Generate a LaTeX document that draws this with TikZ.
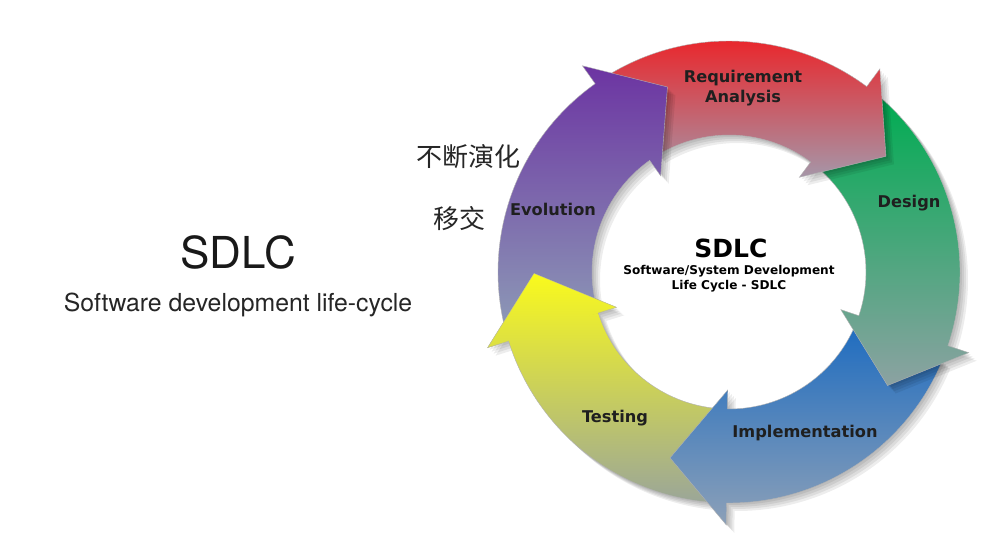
\documentclass[tikz,border=0pt]{standalone}
\usepackage{fontspec}
\newfontfamily\titlefont{TeX Gyre Heros}
\newfontfamily\labelfont{DejaVu Sans}
\newfontfamily\cjkfont{Noto Sans CJK SC}

\definecolor{evotop}{RGB}{108,52,162}
\definecolor{evobot}{RGB}{140,152,182}
\definecolor{reqtop}{RGB}{240,28,32}
\definecolor{reqbot}{RGB}{165,150,168}
\definecolor{destop}{RGB}{0,172,82}
\definecolor{desbot}{RGB}{140,162,162}
\definecolor{imptop}{RGB}{30,108,192}
\definecolor{impbot}{RGB}{140,160,184}
\definecolor{testop}{RGB}{250,250,28}
\definecolor{tesbot}{RGB}{155,166,152}

\tikzset{
  phase/.style={font=\labelfont\bfseries\fontsize{16.2}{20}\selectfont, text=black!88, align=center, inner sep=0pt},
  hub/.style={font=\labelfont\bfseries, text=black, align=center, inner sep=0pt},
  cjk/.style={font=\cjkfont\fontsize{26}{29}\selectfont, text=black!85, inner sep=0pt},
  shade/.style={fill=black, opacity=0.07},
  rim/.style={draw=black!30, line width=0.4pt},
}

% ring segment with its head: #1 = barb angle
\newcommand{\phasepath}[1]{(#1-68:137) arc[start angle=#1-68, end angle=#1, radius=137]
  -- (#1:118) -- (#1+17:195) -- (#1:253) -- (#1:231)
  arc[start angle=#1, end angle=#1-68, radius=231] -- cycle}

\begin{document}
\begin{tikzpicture}[x=1pt,y=1pt,yscale=-1]
\fill[white] (0,0) rectangle (985,544);
\useasboundingbox (0,0) rectangle (985,544);

% Title
\node[font=\titlefont\fontsize{44}{48}\selectfont, text=black!90] (title) at (238,252) {SDLC};
\node[font=\titlefont\fontsize{24.8}{28}\selectfont, text=black!85] (subtitle) at (238,305) {Software development life-cycle};

% Cycle
\begin{scope}[shift={(729,272)}]
\foreach \b/\ctop/\cbot in {162.6/testop/tesbot, 90.6/imptop/impbot, 18.6/destop/desbot, -53.4/reqtop/reqbot, -125.4/evotop/evobot}{
  \foreach \s in {2,4,6,8}
    \path[shade, shift={(\s,\s)}] \phasepath{\b};
  \path[rim, top color=\ctop, bottom color=\cbot] \phasepath{\b};
}
% Testing head over Evolution tail
\begin{scope}
\clip (162.6:118) -- (179.6:195) -- (162.6:253) -- cycle;
\path[rim, top color=testop, bottom color=tesbot] \phasepath{162.6};
\end{scope}
\end{scope}

% Text Node
\node[phase] (req) at (743,88) {Requirement\\Analysis};
% Text Node
\node[phase] (des) at (909,203) {Design};
% Text Node
\node[phase] (imp) at (805,433) {Implementation};
% Text Node
\node[phase] (tes) at (615,418) {Testing};
% Text Node
\node[phase] (evo) at (553,209) {Evolution};

% Text Node
\node[hub, font=\labelfont\bfseries\fontsize{25}{28}\selectfont] (hub) at (731,248) {SDLC};
% Text Node
\node[hub, font=\labelfont\bfseries\fontsize{12.1}{15}\selectfont] (hubsub) at (729,279) {Software/System Development\\Life Cycle - SDLC};

% Text Node
\node[cjk] (evolve) at (468,157) {不断演化};
% Text Node
\node[cjk] (handover) at (459,219) {移交};
\end{tikzpicture}
\end{document}
